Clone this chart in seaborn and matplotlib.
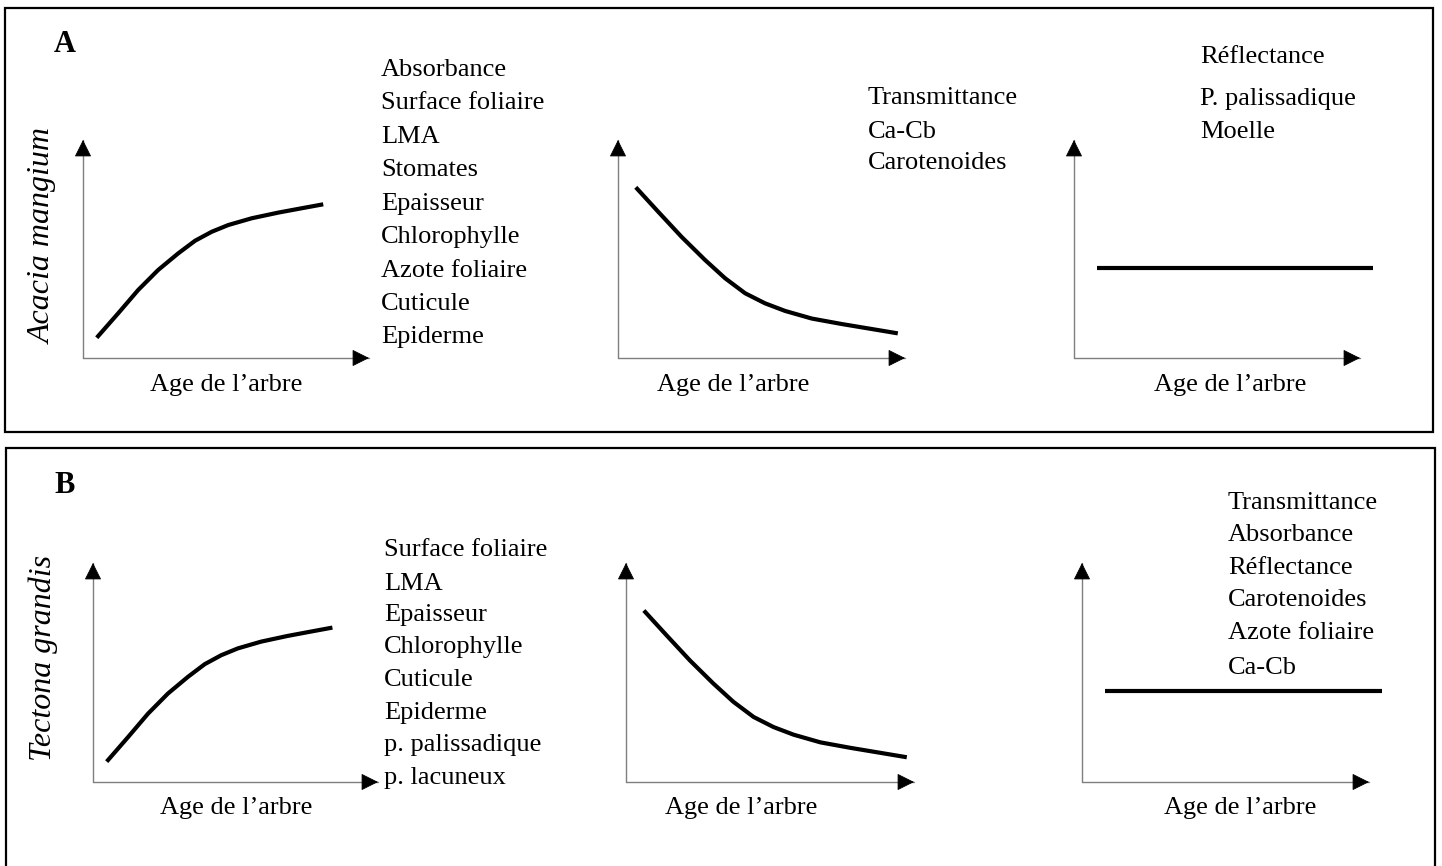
import seaborn as sns
import matplotlib.pyplot as plt
from matplotlib.patches import Rectangle

W, H = 1442, 866

# schematic curves (age 0-10 on x, response 0-10 on y)
rise_age = [0.48, 1.23, 1.93, 2.63, 3.33, 3.92, 4.50, 5.08, 5.90, 6.83, 7.65, 8.40]
rise_val = [0.93, 2.05, 3.12, 4.04, 4.80, 5.38, 5.79, 6.10, 6.41, 6.67, 6.87, 7.05]
fall_age = [0.62, 1.40, 2.22, 3.03, 3.73, 4.43, 5.12, 5.82, 6.75, 7.79, 8.84, 9.75]
fall_val = [7.83, 6.71, 5.55, 4.50, 3.66, 2.97, 2.51, 2.16, 1.81, 1.56, 1.33, 1.13]
flat_age = [0.80, 10.45]
flat_val = [4.15, 4.15]

xlabel = "Age de l\u2019arbre"

# variables listed next to each schematic
acacia_up = ["Absorbance", "Surface foliaire", "LMA", "Stomates", "Epaisseur",
             "Chlorophylle", "Azote foliaire", "Cuticule", "Epiderme"]
acacia_down = ["Transmittance", "Ca-Cb", "Carotenoides"]
acacia_flat = ["R\u00e9flectance", "P. palissadique", "Moelle"]
tectona_up = ["Surface foliaire", "LMA", "Epaisseur", "Chlorophylle", "Cuticule",
              "Epiderme", "p. palissadique", "p. lacuneux"]
tectona_flat = ["Transmittance", "Absorbance", "R\u00e9flectance", "Carotenoides",
                "Azote foliaire", "Ca-Cb"]

sns.set_style("white")
plt.rcParams['font.family'] = ['Liberation Serif', 'DejaVu Serif']
plt.rcParams['text.color'] = 'black'


def px(x, y):
    return x / W, 1 - y / H


def mini_axes(fig, x0, y0, x1, y1):
    # (x0, y0) origin in pixels, x1 = tip of x arrow, y1 = tip of y arrow
    l, b = px(x0, y0)
    ax = fig.add_axes([l, b, (x1 - x0) / W, (y0 - y1) / H])
    ax.set_xlim(0, 10)
    ax.set_ylim(0, 10)
    ax.axis('off')
    hx = 1 - 15 / (x1 - x0)
    hy = 1 - 15 / (y0 - y1)
    for end, start in [((1, 0), (hx, 0)), ((0, 1), (0, hy))]:
        ax.plot([0, end[0]], [0, end[1]], transform=ax.transAxes,
                color='#7f7f7f', lw=1, clip_on=False)
        ax.annotate('', xy=end, xytext=start, xycoords='axes fraction',
                    arrowprops=dict(arrowstyle='-|>', color='black', lw=0.6,
                                    mutation_scale=27, shrinkA=0, shrinkB=0))
    return ax


def draw_curve(ax, x, y):
    sns.lineplot(x=x, y=y, ax=ax, color='black', linewidth=3,
                 estimator=None, sort=False)
    ax.lines[-1].set_clip_on(False)
    ax.lines[-1].set_solid_capstyle('butt')
    ax.lines[-1].set_solid_joinstyle('round')


def text_list(fig, x, ys, labels):
    for y, lab in zip(ys, labels):
        fig.text(*px(x, y), lab, fontsize=19, va='center', ha='left')


def main():
    fig = plt.figure(figsize=(W / 100, H / 100), dpi=100)

    # panel frames
    fig.patches.append(Rectangle(px(5, 432), 1428 / W, 424 / H, transform=fig.transFigure,
                                 fill=False, ec='black', lw=1.6))
    fig.patches.append(Rectangle(px(6, 880), 1429 / W, 432 / H, transform=fig.transFigure,
                                 fill=False, ec='black', lw=1.6))

    # ---- A : Acacia mangium
    fig.text(*px(65, 44), "A", fontsize=22, fontweight='bold', ha='center', va='center')
    fig.text(*px(43, 236), "Acacia mangium", fontsize=23, style='italic',
             rotation=90, ha='center', va='center')

    ax = mini_axes(fig, 83, 358, 369, 140)
    draw_curve(ax, rise_age, rise_val)
    ax = mini_axes(fig, 618, 358, 905, 140)
    draw_curve(ax, fall_age, fall_val)
    ax = mini_axes(fig, 1074, 358, 1360, 140)
    draw_curve(ax, flat_age, flat_val)

    for cx in [226, 733, 1230]:
        fig.text(*px(cx, 385), xlabel, fontsize=19, ha='center', va='center')

    text_list(fig, 381, [70, 103, 137, 170, 204, 237, 271, 304, 337], acacia_up)
    text_list(fig, 868, [98, 132, 163], acacia_down)
    text_list(fig, 1200, [57, 99, 132], acacia_flat)

    # ---- B : Tectona grandis
    fig.text(*px(65, 485), "B", fontsize=22, fontweight='bold', ha='center', va='center')
    fig.text(*px(43, 658), "Tectona grandis", fontsize=23, style='italic',
             rotation=90, ha='center', va='center')

    ax = mini_axes(fig, 93, 782, 378, 563)
    draw_curve(ax, rise_age, rise_val)
    ax = mini_axes(fig, 626, 782, 914, 563)
    draw_curve(ax, fall_age, fall_val)
    ax = mini_axes(fig, 1082, 782, 1369, 563)
    draw_curve(ax, flat_age, flat_val)

    for cx in [236, 741, 1240]:
        fig.text(*px(cx, 808), xlabel, fontsize=19, ha='center', va='center')

    text_list(fig, 384, [550, 584, 615, 647, 680, 713, 745, 778], tectona_up)
    text_list(fig, 1228, [503, 535, 568, 600, 633, 668], tectona_flat)

    fig.savefig('out.png', dpi=100)


if __name__ == "__main__":
    main()
